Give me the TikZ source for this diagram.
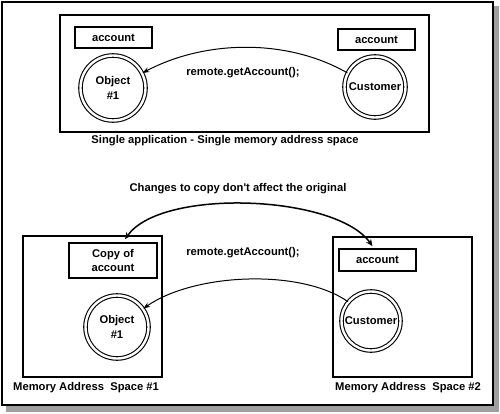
\documentclass[tikz,border=0pt]{standalone}
\usepackage{fontspec}
\setmainfont{Liberation Sans}
\usetikzlibrary{arrows.meta}
\tikzset{
  lbl/.style={font=\fontsize{11.2}{14.5}\selectfont\bfseries, inner sep=0pt, align=center},
  box/.style={draw, line width=1.5pt, inner sep=0pt, lbl},
  area/.style={draw, line width=1.5pt, inner sep=0pt},
  obj/.style={circle, draw, line width=1.1pt, double, double distance=2.4pt, inner sep=0pt, lbl},
  call/.style={line width=1pt, -{Stealth[length=7pt,width=5pt]}},
  both/.style={line width=1.5pt, {Stealth[length=7pt,width=6pt]}-{Stealth[length=7pt,width=6pt]}},
}
\begin{document}
\begin{tikzpicture}[x=1pt,y=1pt]
\useasboundingbox (0,0) rectangle (500,413);
% frame with shadow
\fill[gray!75] (6,1) rectangle (499,407);
\draw[line width=2pt, fill=white] (2,411) rectangle (493,8);

% ---------- top part ----------
\node[area, minimum width=369, minimum height=117] (app) at (244.5,339.5) {};
\node[box, minimum width=77, minimum height=21] (acc1) at (113.5,375.5) {account};
\node[box, minimum width=77, minimum height=21] (acc2) at (376.5,373.5) {account};
\node[obj, minimum size=65] (o1) at (113,325) {Object\\\#1};
\node[obj, minimum size=61] (c1) at (375,326) {Customer};
\node[lbl] (call1) at (243,340) {remote.getAccount();};
\node[lbl] (cap1) at (225,272) {Single application - Single memory address space};
\draw[call] (c1.153) .. controls +(150:68) and +(28:72) .. (o1.27);

% ---------- bottom part ----------
\node[lbl] (chg) at (238,224) {Changes to copy don\textquotesingle t affect the original};
\node[area, minimum width=139, minimum height=141] (ms1) at (92.5,106.5) {};
\node[area, minimum width=139, minimum height=140] (ms2) at (402.5,106) {};
\node[box, minimum width=88, minimum height=35] (copy) at (113,152.5) {Copy of\\account};
\node[box, minimum width=77, minimum height=22] (acc3) at (377.5,153) {account};
\node[obj, minimum size=63] (o2) at (117,86) {Object\\\#1};
\node[obj, minimum size=59] (c2) at (371,92) {Customer};
\node[lbl] (call2) at (243,160) {remote.getAccount();};
\node[lbl, anchor=west] (cap2) at (13,25) {Memory Address~~Space \#1};
\node[lbl, anchor=west] (cap3) at (335,25) {Memory Address~~Space \#2};
\draw[call] (c2.140) .. controls +(145:58) and +(35:62) .. (o2.35);
\coordinate (l) at ([xshift=12pt,yshift=3pt]copy.north);
\coordinate (r) at ([xshift=-5pt,yshift=2pt]acc3.north);
\draw[both] (l) .. controls +(55:63) and +(125:63) .. (r);
\end{tikzpicture}
\end{document}
